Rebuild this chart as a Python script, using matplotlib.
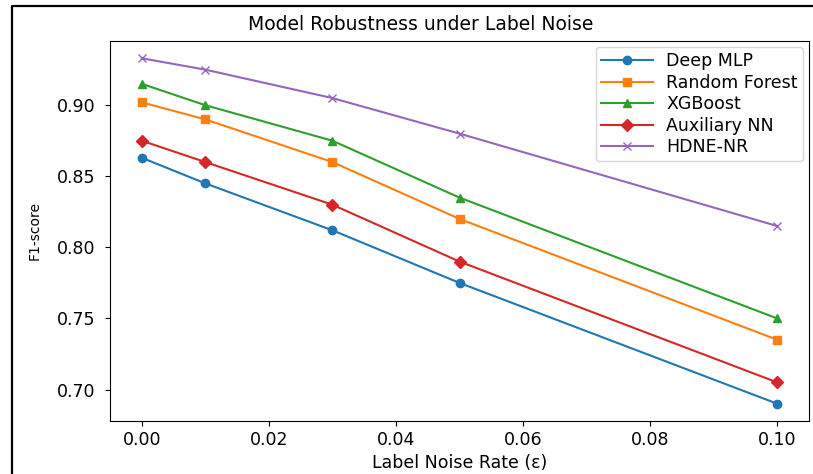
import matplotlib
matplotlib.use("Agg")
import matplotlib.pyplot as plt
from matplotlib.lines import Line2D

noise_rates = [0.0, 0.01, 0.03, 0.05, 0.10]
deep_mlp = [0.863, 0.845, 0.812, 0.775, 0.690]
random_forest = [0.902, 0.890, 0.860, 0.820, 0.735]
xgboost = [0.915, 0.900, 0.875, 0.835, 0.750]
auxiliary_nn = [0.875, 0.860, 0.830, 0.790, 0.705]
hdne_nr = [0.933, 0.925, 0.905, 0.880, 0.815]

series = [
    ("Deep MLP", deep_mlp, "o"),
    ("Random Forest", random_forest, "s"),
    ("XGBoost", xgboost, "^"),
    ("Auxiliary NN", auxiliary_nn, "D"),
    ("HDNE-NR", hdne_nr, "x"),
]

W, H = 813, 474
fig = plt.figure(figsize=(W / 100, H / 100), dpi=100)
ax = fig.add_axes([110 / W, 1 - 421 / H, (809 - 110) / W, (421 - 41) / H])

for name, vals, m in series:
    ax.plot(noise_rates, vals, marker=m, label=name)

ax.set_title("Model Robustness under Label Noise", fontsize=13.5,
             x=(421 - 110) / 699, pad=8)
ax.set_xlabel("Label Noise Rate (ε)", fontsize=12.5)
ax.set_ylabel("F1-score", fontsize=10)
ax.yaxis.set_label_coords((42 - 110) / 699, 0.5)
ax.tick_params(axis="x", labelsize=12.5)
ax.tick_params(axis="y", labelsize=12.5, pad=7)
ax.legend(fontsize=12.5, loc="upper right", labelspacing=0.2,
          handlelength=3.0, handletextpad=0.75, borderaxespad=0.35,
          borderpad=0.3)

# figure frame (left and top edges visible in the crop)
fx = 12 / W
fy = 1 - 6 / H
fig.add_artist(Line2D([fx, fx, 1.0], [0.0, fy, fy], transform=fig.transFigure,
                      color="black", linewidth=1.6))

fig.savefig("out.png", dpi=100)
